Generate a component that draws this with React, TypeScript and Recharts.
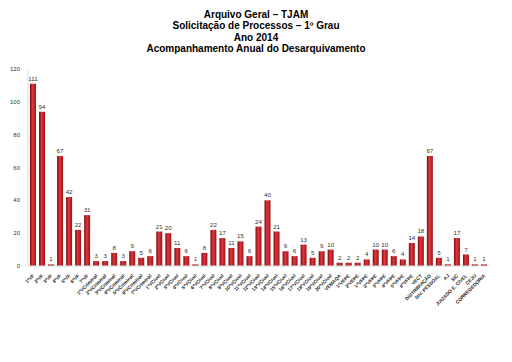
import { BarChart, Bar, XAxis, YAxis, LabelList } from "recharts";

const units = [
  "1ªVF", "2ªVF", "3ªVF", "4ªVF", "5ªVF", "6ªVF", "7ªVF",
  "1ªVCriminal", "2ªVCriminal", "3ªVCriminal", "4ªVCriminal", "5ªVCriminal", "6ªVCriminal", "7ªVCriminal",
  "1ªVCível", "2ªVCível", "3ªVCível", "4ªVCível", "5ªVCível", "6ªVCível", "7ªVCível",
  "8ªVCível", "9ªVCível", "10ªVCível", "11ªVCível", "12ªVCível", "13ªVCível", "14ªVCível",
  "15ªVCível", "16ªVCível", "17ªVCível", "18ªVCível", "19ªVCível", "20ªVCível",
  "VEMAQA", "1ªVEPE", "2ªVEPE",
  "1ªVFPE", "2ªVFPE", "3ªVFPE", "4ªVFPE", "5ªVFPE", "6ªVFPE",
  "VECT", "DISTRIBUIÇÃO", "DIV. PESSOAL", "AJ", "SIC", "JUIZADO E. CÍVEL", "CEJU", "CORREGEDORIA",
];

const requests = [
  111, 94, 1, 67, 42, 22, 31,
  3, 3, 8, 3, 9, 5, 6,
  21, 20, 11, 6, 1, 8, 22, 17, 11, 15, 6, 24, 40, 21, 9, 6, 13, 5, 9, 10,
  2, 2, 2,
  4, 10, 10, 6, 4, 14,
  18, 67, 5, 1, 17, 7, 1, 1,
];

const yTicks = [0, 20, 40, 60, 80, 100, 120];

const titleLines = [
  "Arquivo Geral – TJAM",
  "Solicitação de Processos – 1º Grau",
  "Ano 2014",
  "Acompanhamento Anual do Desarquivamento",
];

const data = units.map((u, i) => ({ name: u, value: requests[i] }));

function SlantTick({ x, y, payload }: any) {
  return (
    <g transform={`translate(${x},${y})`}>
      <text
        x={0}
        y={0}
        dy={3}
        textAnchor="end"
        transform="rotate(-45)"
        fontSize={4.8}
        fontWeight="bold"
        fill="#222"
      >
        {payload.value}
      </text>
    </g>
  );
}

export default function App() {
  return (
    <div
      style={{
        position: "fixed",
        left: 0,
        top: 0,
        width: 512,
        height: 362,
        background: "#fff",
        fontFamily: "'Liberation Sans', Arial, sans-serif",
      }}
    >
      <div
        style={{
          position: "absolute",
          top: 9,
          left: 0,
          width: 512,
          textAlign: "center",
          fontWeight: "bold",
          fontSize: 10,
          lineHeight: "11.3px",
          color: "#000",
        }}
      >
        {titleLines.map((t) => (
          <div key={t}>{t}</div>
        ))}
      </div>
      <BarChart
        width={512}
        height={362}
        data={data}
        margin={{ top: 69, right: 24, bottom: 0, left: 0 }}
        barSize={6}
      >
        <defs>
          <linearGradient id="barRed" x1="0" y1="0" x2="1" y2="0">
            <stop offset="0%" stopColor="#7e0c10" />
            <stop offset="45%" stopColor="#e2363a" />
            <stop offset="100%" stopColor="#9a1318" />
          </linearGradient>
        </defs>
        <YAxis
          width={28}
          domain={[0, 120]}
          ticks={yTicks}
          tickLine={false}
          axisLine={{ stroke: "#dcdcdc" }}
          tick={{ fontSize: 6, fill: "#333" }}
        />
        <XAxis
          dataKey="name"
          interval={0}
          height={96}
          tickLine={false}
          axisLine={{ stroke: "#dcdcdc" }}
          tick={<SlantTick />}
        />
        <Bar dataKey="value" fill="url(#barRed)" isAnimationActive={false}>
          <LabelList dataKey="value" position="top" offset={3} fontSize={6.2} fill="#333" />
        </Bar>
      </BarChart>
    </div>
  );
}
